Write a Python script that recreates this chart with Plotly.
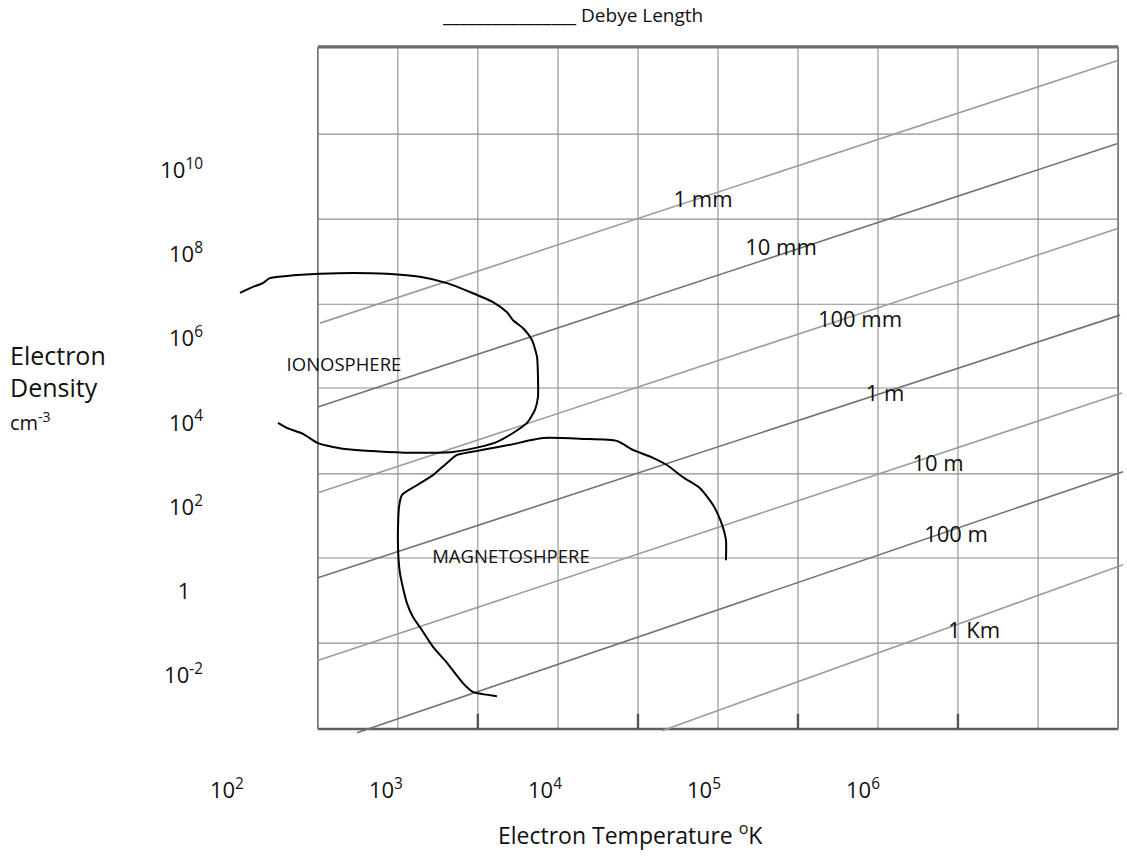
import plotly.graph_objects as go

# ---- axis values: x = log10(T / K), y = log10(n / cm^-3) ----
x_tick_vals = [2, 3, 4, 5, 6]
x_tick_text = ["10<sup>2</sup>", "10<sup>3</sup>", "10<sup>4</sup>", "10<sup>5</sup>", "10<sup>6</sup>"]
y_tick_vals = [10, 8, 6, 4, 2, 0, -2]
y_tick_text = ["10<sup>10</sup>", "10<sup>8</sup>", "10<sup>6</sup>", "10<sup>4</sup>",
               "10<sup>2</sup>", "1\u2007", "10<sup>-2</sup>"]

# graph-paper rulings
grid_logT = [2.572, 3.075, 3.578, 4.082, 4.585, 5.088, 5.591, 6.094, 6.597, 7.101, 7.604]
grid_logn = [12.93, 10.86, 8.84, 6.82, 4.83, 2.79, 0.79, -1.23, -3.27]
tick_mark_logT = [3.578, 4.585, 5.591, 6.597]

# Debye-length lines
debye_labels = ["1 mm", "10 mm", "100 mm", "1 m", "10 m", "100 m", "1 Km"]
debye_logT_start = [2.585, 2.572, 2.572, 2.572, 2.566, 2.818, 4.736]
debye_logn_start = [6.37, 4.38, 2.34, 0.32, -1.65, -3.36, -3.31]
debye_logT_end = [7.597, 7.597, 7.597, 7.616, 7.629, 7.635, 7.635]
debye_logn_end = [12.60, 10.63, 8.61, 6.56, 4.71, 2.84, 0.63]
debye_label_logT = [4.994, 5.484, 5.981, 6.138, 6.472, 6.585, 6.698]
debye_label_logn = [9.25, 8.11, 6.40, 4.64, 3.00, 1.31, -0.97]

# Ionosphere outline
iono_logT = [2.082, 2.164, 2.226, 2.270, 2.377, 2.585, 2.792, 3.006, 3.214, 3.384, 3.528,
             3.673, 3.761, 3.799, 3.862, 3.918, 3.950, 3.956, 3.956, 3.937, 3.887, 3.799,
             3.698, 3.591, 3.421, 3.214, 3.006, 2.792, 2.667, 2.572, 2.478, 2.377, 2.321]
iono_logn = [7.09, 7.23, 7.32, 7.44, 7.49, 7.54, 7.56, 7.54, 7.47, 7.32, 7.11,
             6.87, 6.63, 6.44, 6.25, 5.97, 5.57, 5.09, 4.62, 4.31, 4.00, 3.76,
             3.55, 3.43, 3.31, 3.29, 3.31, 3.36, 3.43, 3.52, 3.74, 3.88, 4.00]

# Magnetosphere outline
magneto_logT = [3.698, 3.547, 3.484, 3.384, 3.296, 3.226, 3.170, 3.132, 3.088, 3.075,
                3.082, 3.101, 3.195, 3.296, 3.384, 3.447, 3.610, 3.780, 3.987, 4.239,
                4.453, 4.553, 4.679, 4.767, 4.868, 4.975, 5.057, 5.107, 5.138, 5.138]
magneto_logn = [-2.49, -2.39, -2.18, -1.70, -1.32, -0.92, -0.61, -0.28, 0.43, 1.22,
                2.00, 2.29, 2.52, 2.76, 3.05, 3.24, 3.36, 3.48, 3.64, 3.62,
                3.57, 3.36, 3.17, 3.00, 2.71, 2.45, 2.05, 1.65, 1.22, 0.74]

region_labels = ["IONOSPHERE", "MAGNETOSHPERE"]
region_label_logT = [2.736, 3.786]
region_label_logn = [5.35, 0.79]

# ---- figure geometry ----
W, H = 1127, 863
ML, MR, MT, MB = 208, 0, 0, 88
X_RANGE = [1.881, 7.660]
Y_RANGE = [-4.363, 14.045]
FONT = "Open Sans"


def paper_x(px):
    return (px - ML) / (W - ML - MR)


def paper_y(py):
    return (H - MB - py) / (H - MT - MB)


fig = go.Figure()

# interior grid rulings
gx, gy = [], []
for t in grid_logT[1:-1]:
    gx += [t, t, None]
    gy += [grid_logn[-1], grid_logn[0], None]
for n in grid_logn[1:-1]:
    gx += [grid_logT[0], grid_logT[-1], None]
    gy += [n, n, None]
fig.add_trace(go.Scatter(x=gx, y=gy, mode="lines", line=dict(color="#8e8e8e", width=1.1),
                         hoverinfo="skip"))

# frame
fig.add_trace(go.Scatter(x=[grid_logT[0], grid_logT[-1]], y=[grid_logn[0], grid_logn[0]],
                         mode="lines", line=dict(color="#6a6a6a", width=3.2), hoverinfo="skip"))
fig.add_trace(go.Scatter(x=[grid_logT[0], grid_logT[-1]], y=[grid_logn[-1], grid_logn[-1]],
                         mode="lines", line=dict(color="#5e5e5e", width=2.6), hoverinfo="skip"))
fig.add_trace(go.Scatter(x=[grid_logT[0], grid_logT[0], None, grid_logT[-1], grid_logT[-1]],
                         y=[grid_logn[-1], grid_logn[0], None, grid_logn[-1], grid_logn[0]],
                         mode="lines", line=dict(color="#7a7a7a", width=1.8), hoverinfo="skip"))

# small tick marks on the bottom edge
tx, ty = [], []
for t in tick_mark_logT:
    tx += [t, t, None]
    ty += [grid_logn[-1], grid_logn[-1] + 0.36, None]
fig.add_trace(go.Scatter(x=tx, y=ty, mode="lines", line=dict(color="#555555", width=2.4),
                         hoverinfo="skip"))

# Debye-length lines
for i, lab in enumerate(debye_labels):
    col = "#9c9c9c" if i % 2 == 0 else "#727272"
    fig.add_trace(go.Scatter(x=[debye_logT_start[i], debye_logT_end[i]],
                             y=[debye_logn_start[i], debye_logn_end[i]],
                             mode="lines", line=dict(color=col, width=1.6),
                             name=lab, hoverinfo="name"))
fig.add_trace(go.Scatter(x=debye_label_logT, y=debye_label_logn, mode="text",
                         text=debye_labels, textposition="middle center",
                         textfont=dict(family=FONT, size=22, color="#111111"),
                         hoverinfo="skip"))

# regions
fig.add_trace(go.Scatter(x=iono_logT, y=iono_logn, mode="lines",
                         line=dict(color="#000000", width=2, shape="spline", smoothing=0.6),
                         name="Ionosphere"))
fig.add_trace(go.Scatter(x=magneto_logT, y=magneto_logn, mode="lines",
                         line=dict(color="#000000", width=2, shape="spline", smoothing=0.6),
                         name="Magnetosphere"))
fig.add_trace(go.Scatter(x=region_label_logT, y=region_label_logn, mode="text",
                         text=region_labels, textposition="middle center",
                         textfont=dict(family=FONT, size=18.5, color="#111111"),
                         hoverinfo="skip"))

# legend-like header and axis titles
fig.add_annotation(xref="paper", yref="paper", x=paper_x(440), y=paper_y(15),
                   xanchor="left", yanchor="middle", showarrow=False,
                   text="________________ Debye Length",
                   font=dict(family=FONT, size=19, color="#111111"))
fig.add_annotation(xref="paper", yref="paper", x=paper_x(630), y=paper_y(834),
                   xanchor="center", yanchor="middle", showarrow=False,
                   text="Electron Temperature <sup>o</sup>K",
                   font=dict(family=FONT, size=23, color="#111111"))
fig.add_annotation(xref="paper", yref="paper", x=paper_x(8), y=paper_y(355),
                   xanchor="left", yanchor="middle", showarrow=False,
                   text="Electron", font=dict(family=FONT, size=25, color="#111111"))
fig.add_annotation(xref="paper", yref="paper", x=paper_x(8), y=paper_y(387),
                   xanchor="left", yanchor="middle", showarrow=False,
                   text="Density", font=dict(family=FONT, size=25, color="#111111"))
fig.add_annotation(xref="paper", yref="paper", x=paper_x(8), y=paper_y(422),
                   xanchor="left", yanchor="middle", showarrow=False,
                   text="cm<sup>-3</sup>", font=dict(family=FONT, size=20, color="#111111"))

fig.update_layout(
    width=W, height=H,
    margin=dict(l=ML, r=MR, t=MT, b=MB),
    paper_bgcolor="white", plot_bgcolor="white",
    showlegend=False,
    font=dict(family=FONT, color="#111111"),
    xaxis=dict(range=X_RANGE, tickvals=x_tick_vals, ticktext=x_tick_text,
               showgrid=False, zeroline=False, showline=False, ticks="",
               tickfont=dict(family=FONT, size=22, color="#111111")),
    yaxis=dict(range=Y_RANGE, tickvals=y_tick_vals, ticktext=y_tick_text,
               showgrid=False, zeroline=False, showline=False, ticks="",
               ticklabelstandoff=4,
               tickfont=dict(family=FONT, size=22, color="#111111")),
)

fig.write_html("out.html")
